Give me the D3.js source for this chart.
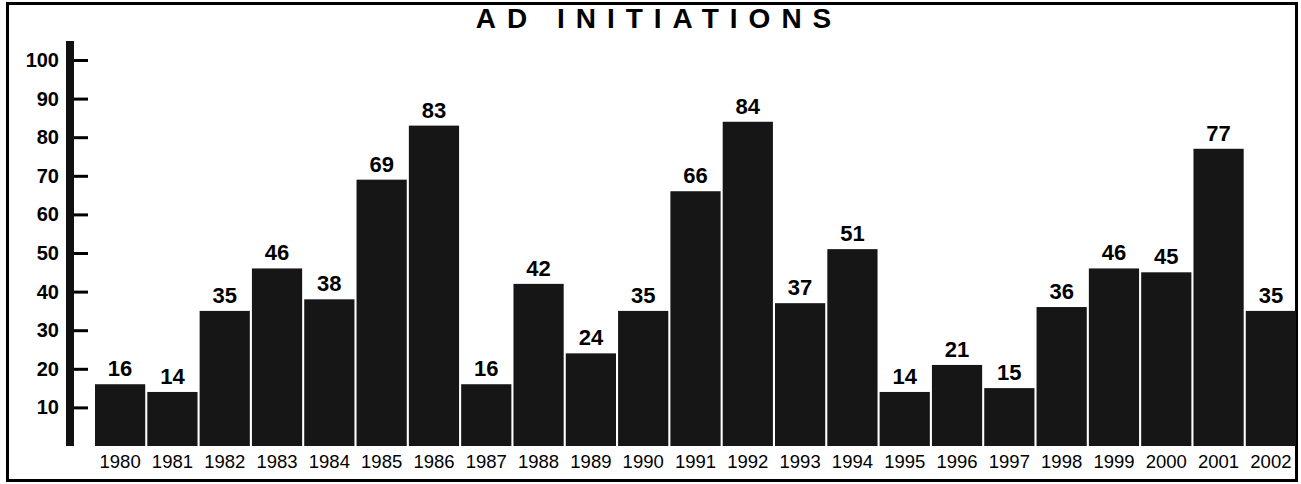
<!DOCTYPE html>
<html>
<head>
<meta charset="utf-8">
<script src="https://cdn.jsdelivr.net/npm/d3@7"></script>
<style>
  body { margin: 0; background: #fff; }
  svg text { font-family: "Liberation Sans", Arial, sans-serif; }
</style>
</head>
<body>
<svg id="chart" width="1301" height="484"></svg>
<script>
const years = ['1980','1981','1982','1983','1984','1985','1986','1987','1988','1989','1990','1991',
  '1992','1993','1994','1995','1996','1997','1998','1999','2000','2001','2002'];
const initiations = [16, 14, 35, 46, 38, 69, 83, 16, 42, 24, 35, 66, 84, 37, 51, 14, 21, 15, 36, 46, 45, 77, 35];
const yTicks = [10, 20, 30, 40, 50, 60, 70, 80, 90, 100];

const svg = d3.select('#chart');

// frame
svg.append('rect')
  .attr('x', 7.5).attr('y', 3.5).attr('width', 1289).attr('height', 477)
  .attr('fill', 'none').attr('stroke', '#000').attr('stroke-width', 3);

// scales
const x = d3.scaleBand().domain(years).range([95, 1296]).paddingInner(0.04).paddingOuter(0);
const y = d3.scaleLinear().domain([0, 100]).range([446, 60]);

// thick axis bar
svg.append('rect')
  .attr('x', 66).attr('y', 41).attr('width', 8).attr('height', 405)
  .attr('fill', '#111');

// y axis
const yAxis = svg.append('g')
  .attr('transform', 'translate(74,0)')
  .call(d3.axisLeft(y).tickValues(yTicks).tickSizeInner(-14).tickSizeOuter(0).tickPadding(15));
yAxis.select('.domain').remove();
yAxis.selectAll('line').attr('stroke', '#000').attr('stroke-width', 3);
yAxis.selectAll('text')
  .attr('font-size', 20).attr('font-weight', 'bold').attr('fill', '#000');

// bars
svg.selectAll('.bar')
  .data(initiations)
  .enter()
  .append('rect')
  .attr('class', 'bar')
  .attr('x', (d, i) => x(years[i]))
  .attr('y', d => y(d))
  .attr('width', x.bandwidth())
  .attr('height', d => y(0) - y(d))
  .attr('fill', '#161616');

// value labels
svg.selectAll('.val')
  .data(initiations)
  .enter()
  .append('text')
  .attr('class', 'val')
  .attr('x', (d, i) => x(years[i]) + x.bandwidth() / 2)
  .attr('y', d => y(d) - 8)
  .attr('text-anchor', 'middle')
  .attr('font-size', 22)
  .attr('font-weight', 'bold')
  .text(d => d);

// x axis labels
const xAxis = svg.append('g')
  .attr('transform', 'translate(0,446)')
  .call(d3.axisBottom(x).tickSize(0).tickPadding(9));
xAxis.select('.domain').remove();
xAxis.selectAll('text')
  .attr('font-size', 18.5).attr('fill', '#000');

// title sits just under the top frame line
svg.append('text')
  .attr('x', 659).attr('y', 28)
  .attr('text-anchor', 'middle')
  .attr('font-size', 28)
  .attr('font-weight', 'bold')
  .attr('letter-spacing', 11)
  .text('AD INITIATIONS');
</script>
</body>
</html>
